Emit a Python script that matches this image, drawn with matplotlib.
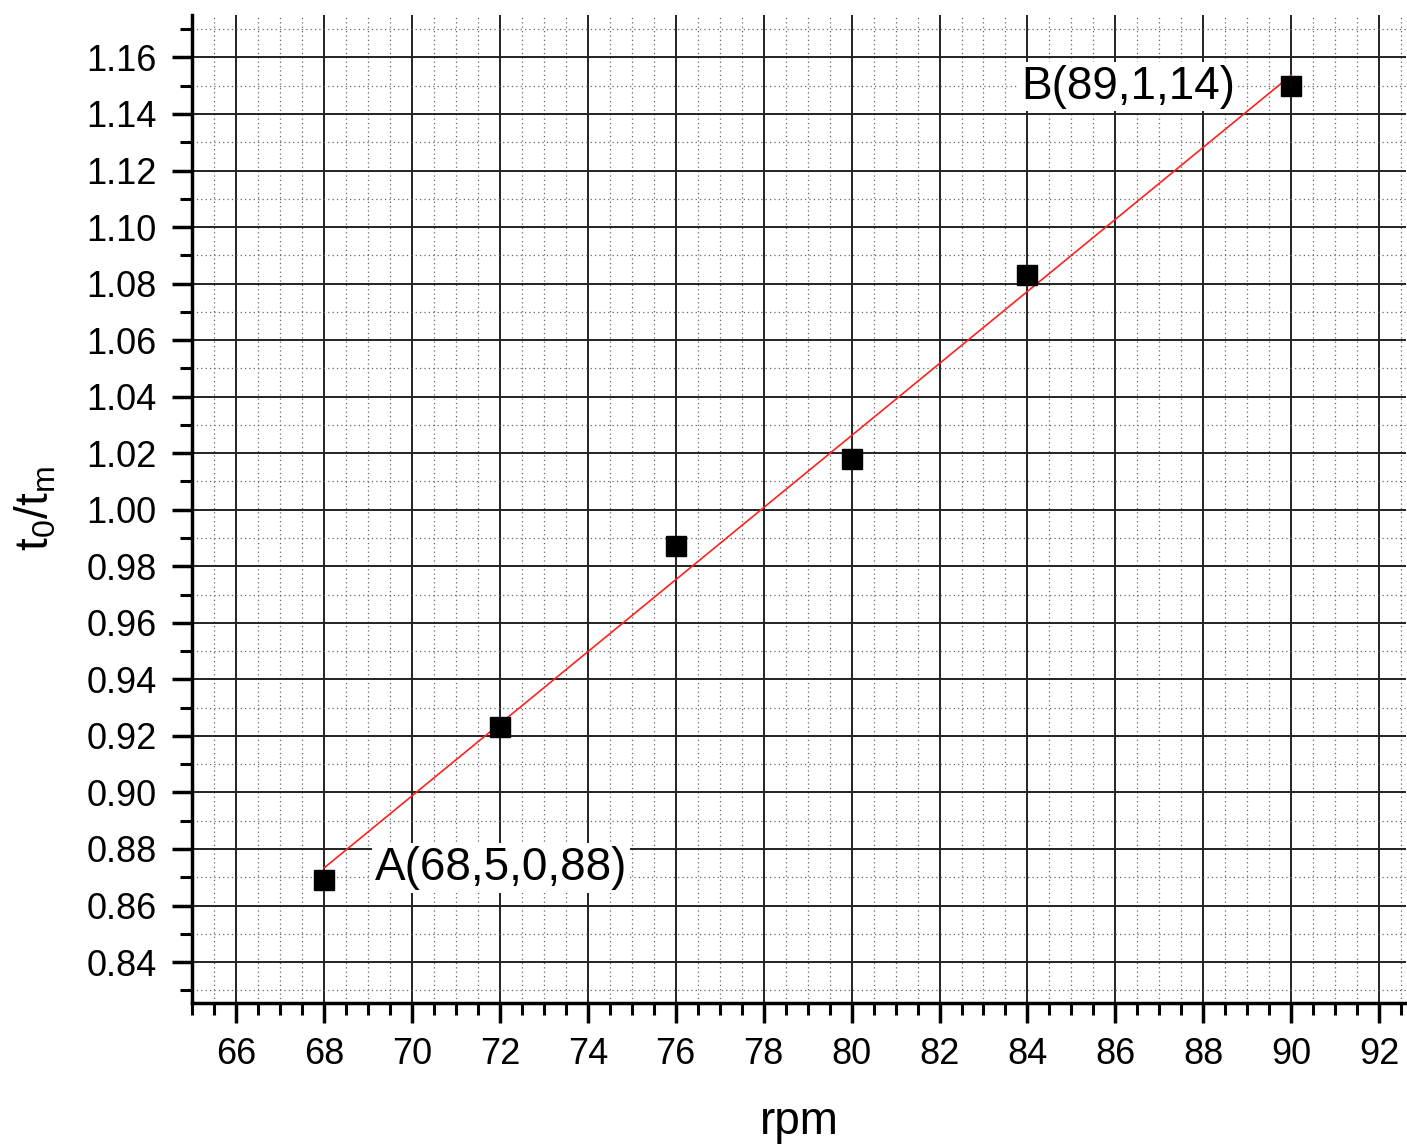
import numpy as np
import matplotlib
matplotlib.use("Agg")
import matplotlib.pyplot as plt
from matplotlib.ticker import MultipleLocator, FormatStrFormatter

plt.rcParams['font.family'] = ['Liberation Sans', 'DejaVu Sans']
plt.rcParams['mathtext.default'] = 'regular'

# measured data
rpm = [68, 72, 76, 80, 84, 90]
ratio = [0.869, 0.923, 0.987, 1.018, 1.083, 1.150]
label_a = "A(68,5,0,88)"
label_b = "B(89,1,14)"

fig = plt.figure(figsize=(14.07, 11.47), dpi=100)
ax = fig.add_axes([0.1365, 0.1255, 0.8625, 0.8614])

# grid first so marks sit on top
ax.xaxis.set_major_locator(MultipleLocator(2))
ax.xaxis.set_minor_locator(MultipleLocator(0.5))
ax.yaxis.set_major_locator(MultipleLocator(0.02))
ax.yaxis.set_minor_locator(MultipleLocator(0.01))
ax.yaxis.set_major_formatter(FormatStrFormatter('%.2f'))
ax.grid(True, which='major', color='#222222', linewidth=1.4)
ax.grid(True, which='minor', color='#666666', linewidth=0.9,
        linestyle=(0, (1, 2.5)))
ax.set_axisbelow(True)

# linear fit
k, b = np.polyfit(rpm, ratio, 1)
xf = np.array([rpm[0], rpm[-1]])
ax.plot(xf, k * xf + b, color='#ff2020', linewidth=1.2, zorder=3)
ax.plot(rpm, ratio, 's', color='black', markersize=15, zorder=4)

ax.text(69.15, 0.8733, label_a, fontsize=33, va='center', ha='left', zorder=5,
        bbox=dict(facecolor='white', edgecolor='none', pad=2))
ax.text(83.85, 1.1497, label_b, fontsize=33, va='center', ha='left', zorder=5,
        bbox=dict(facecolor='white', edgecolor='none', pad=2))

ax.set_xlim(65, 92.6)
ax.set_ylim(0.8255, 1.175)

for side in ['top', 'right']:
    ax.spines[side].set_visible(False)
for side in ['left', 'bottom']:
    ax.spines[side].set_linewidth(2.5)

ax.tick_params(which='major', direction='out', length=14.5, width=2.5,
               labelsize=26)
ax.tick_params(axis='x', which='major', pad=10)
ax.tick_params(axis='y', which='major', pad=11)
ax.tick_params(which='minor', direction='out', length=8.5, width=2.2)

ax.set_xlabel('rpm', fontsize=33, labelpad=20)
ax.set_ylabel('t$_0$/t$_m$', fontsize=33, labelpad=20)

fig.savefig('out.png', dpi=100)
